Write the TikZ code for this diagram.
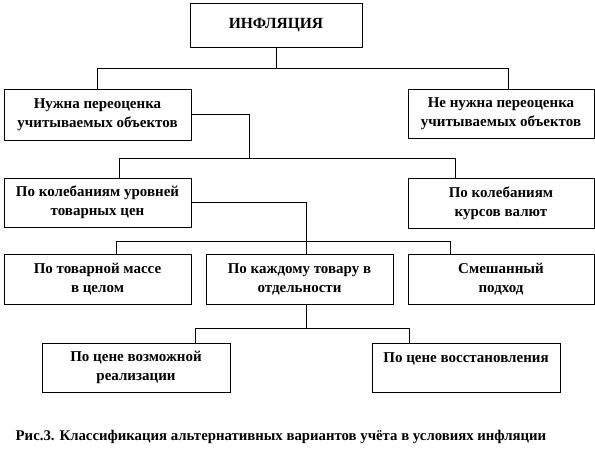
\documentclass[tikz,border=0pt]{standalone}
\usepackage{fontspec}
\setmainfont{Liberation Serif}
\begin{document}
\begin{tikzpicture}[x=1pt,y=-1pt,
  box/.style={draw=black,line width=0.8pt,rectangle,inner sep=0pt,align=center,
    font=\fontsize{15}{19}\selectfont\bfseries},
  conn/.style={draw=black,line width=0.8pt}]
\useasboundingbox (0,0) rectangle (595,459);
\node[box,minimum width=172pt,minimum height=44pt,font=\fontsize{15.5}{19}\selectfont\bfseries] (inf) at (276,25) {ИНФЛЯЦИЯ};
\node[box,minimum width=187pt,minimum height=51pt] (b1) at (97.5,114.5) {Нужна переоценка\\учитываемых объектов};
\node[box,minimum width=186pt,minimum height=49pt] (b2) at (501,113.5) {Не нужна переоценка\\учитываемых объектов};
\node[box,minimum width=187pt,minimum height=49pt] (c1) at (97.5,202.5) {По колебаниям уровней\\товарных цен};
\node[box,minimum width=186pt,minimum height=50pt] (c2) at (501,203) {По колебаниям\\курсов валют};
\node[box,minimum width=187pt,minimum height=50pt] (d1) at (97.5,279) {По товарной массе\\в целом};
\node[box,minimum width=187pt,minimum height=50pt] (d2) at (299.5,279) {По каждому товару в\\отдельности};
\node[box,minimum width=186pt,minimum height=50pt] (d3) at (501,279) {Смешанный\\подход};
\node[box,minimum width=188pt,minimum height=49pt] (e1) at (136,367.5) {По цене возможной\\реализации};
\node[box,minimum width=188pt,minimum height=49pt] (e2) at (466,367.5) {По цене восстановления\\~};
\node[font=\fontsize{14.8}{16}\selectfont\bfseries,inner sep=0pt] (cap) at (281,437) {Рис.3. Классификация альтернативных вариантов учёта в условиях инфляции};
% level 1
\coordinate (h1) at (0,68);
\coordinate (b2t) at (508,89);
\draw[conn] (inf.south) -- (inf.south |- h1);
\draw[conn] (b1.north) |- (b2t |- h1) -- (b2t);
% level 2
\coordinate (h2) at (249,158);
\coordinate (c1t) at (119,178);
\coordinate (c2t) at (455,178);
\draw[conn] (b1.east) -| (h2);
\draw[conn] (c1t) |- (c2t |- h2) -- (c2t);
% level 3
\coordinate (d2t) at (306,254);
\coordinate (h3) at (0,241);
\coordinate (d1t) at (116,254);
\coordinate (d3t) at (450,254);
\draw[conn] (c1.east) -| (d2t);
\draw[conn] (d1t) |- (d3t |- h3) -- (d3t);
% level 4
\coordinate (d2b) at (306,304);
\coordinate (h4) at (0,328);
\coordinate (e1t) at (195,343);
\coordinate (e2t) at (409,343);
\draw[conn] (d2b) -- (d2b |- h4);
\draw[conn] (e1t) |- (e2t |- h4) -- (e2t);
\end{tikzpicture}
\end{document}
